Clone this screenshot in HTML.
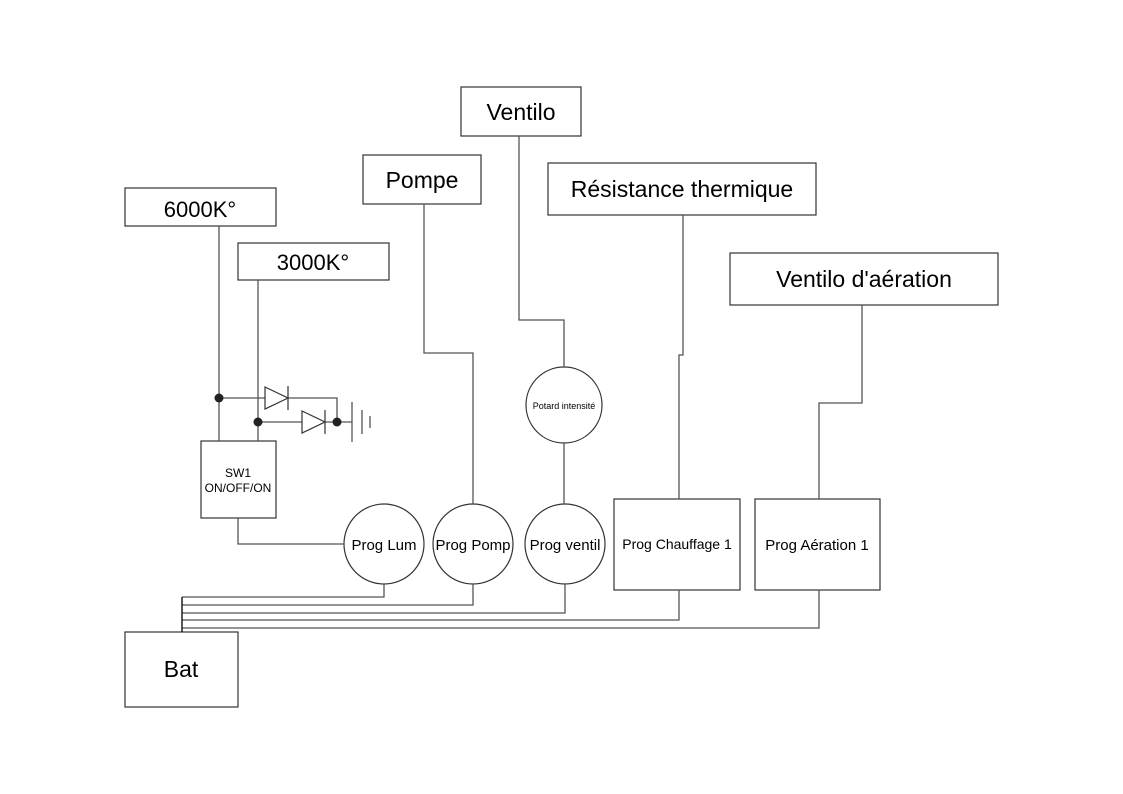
<!DOCTYPE html>
<html><head><meta charset="utf-8"><style>
html,body{margin:0;padding:0;background:#fff;width:1123px;height:794px;overflow:hidden}
svg{display:block}
text{font-family:"Liberation Sans",sans-serif;fill:#000;text-anchor:middle}
</style></head><body>
<svg width="1123" height="794" viewBox="0 0 1123 794" xmlns="http://www.w3.org/2000/svg">
<g fill="#fff" stroke="#333" stroke-width="1.2">
<rect x="125" y="188" width="151" height="38"/>
<rect x="238" y="243" width="151" height="37"/>
<rect x="363" y="155" width="118" height="49"/>
<rect x="461" y="87" width="120" height="49"/>
<rect x="548" y="163" width="268" height="52"/>
<rect x="730" y="253" width="268" height="52"/>
<rect x="201" y="441" width="75" height="77"/>
<rect x="614" y="499" width="126" height="91"/>
<rect x="755" y="499" width="125" height="91"/>
<rect x="125" y="632" width="113" height="75"/>
<circle cx="384" cy="544" r="40"/>
<circle cx="473" cy="544" r="40"/>
<circle cx="565" cy="544" r="40"/>
<circle cx="564" cy="405" r="38"/>
</g>
<g fill="none" stroke="#555" stroke-width="1.3">
<path d="M219 226V441M258 280V441"/>
<path d="M219 398H265M288 398H337V422M258 422H302M325 422H352"/>
<path d="M352 402V442M362 410V434M370 416V428"/>
<path d="M238 518V544H344"/>
<path d="M424 204V353H473V504"/>
<path d="M519 136V320H564V367M564 443V504"/>
<path d="M683 215V355H679V499"/>
<path d="M862 305V403H819V499"/>
<path d="M384 584V597H182M473 584V605H182M565 584V613H182M679 590V620H182M819 590V628H182"/>
<path d="M182 597V632" stroke="#000"/>
</g>
<g fill="none" stroke="#333" stroke-width="1.2">
<path d="M265 387L288 398L265 409Z"/>
<path d="M288 386V410"/>
<path d="M302 411L325 422L302 433Z"/>
<path d="M325 410V434"/>
</g>
<g fill="#222">
<circle cx="219" cy="398" r="4.5"/>
<circle cx="258" cy="422" r="4.5"/>
<circle cx="337" cy="422" r="4.5"/>
</g>
<text x="200" y="217" font-size="22">6000K°</text>
<text x="313" y="270" font-size="22">3000K°</text>
<text x="422" y="188" font-size="23">Pompe</text>
<text x="521" y="120" font-size="23">Ventilo</text>
<text x="682" y="197" font-size="23">Résistance thermique</text>
<text x="864" y="287" font-size="23">Ventilo d'aération</text>
<text x="238" y="477" font-size="12">SW1</text>
<text x="238" y="492" font-size="12">ON/OFF/ON</text>
<text x="384" y="550" font-size="15">Prog Lum</text>
<text x="473" y="550" font-size="15">Prog Pomp</text>
<text x="565" y="550" font-size="15">Prog ventil</text>
<text x="564" y="409" font-size="9">Potard intensité</text>
<text x="677" y="549" font-size="14">Prog Chauffage 1</text>
<text x="817" y="550" font-size="15">Prog Aération 1</text>
<text x="181" y="677" font-size="23">Bat</text>
</svg>
</body></html>
